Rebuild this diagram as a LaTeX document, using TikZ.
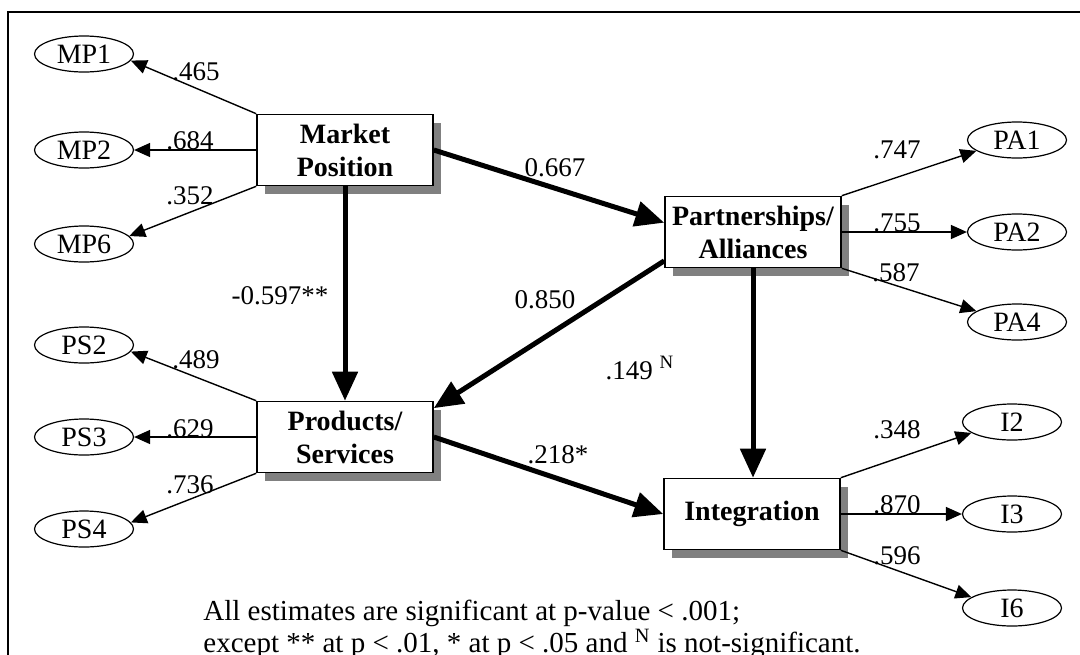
\documentclass[tikz,border=0pt]{standalone}
\usepackage{fontspec}
\setmainfont{Liberation Serif}
\usetikzlibrary{arrows.meta,shapes.geometric,shadows}

\begin{document}
\begin{tikzpicture}[x=0.5pt,y=-0.5pt,
    construct/.style={draw, line width=0.8pt, fill=white, minimum width=88pt, minimum height=35.5pt, inner sep=1pt, align=center, font=\bfseries\fontsize{14}{16.5}\selectfont, drop shadow={shadow xshift=4pt, shadow yshift=-4pt, fill=black!50, opacity=1}},
    item/.style={ellipse, draw, line width=0.6pt, minimum width=49.5pt, minimum height=18pt, inner sep=0pt, font=\fontsize{14}{16}\selectfont},
    loading/.style={-{Triangle[length=8pt,width=7pt]}, line width=0.7pt},
    effect/.style={-{Triangle[length=14.5pt,width=12.5pt]}, line width=2.5pt},
    est/.style={inner sep=0pt, font=\fontsize{13.5}{14.5}\selectfont},
    note/.style={inner sep=0pt, align=left, font=\fontsize{14.5}{14.2}\selectfont}]

            \useasboundingbox (0,0) rectangle (1080,654);
            \draw[line width=1pt] (8,12) rectangle (1100,680);

            % constructs
            \node[construct] (mpbox) at (345,150) {Market\\Position};
            \node[construct] (psbox) at (345,437) {Products/\\Services};
            \node[construct] (pabox) at (753,232) {Partnerships/\\Alliances};
            \node[construct] (intbox) at (752,514) {Integration};

            % indicators
            \node[item, node distance=130.5pt] (mp2) [left of = mpbox]{MP2};
            \node[item, node distance=48pt] (mp1) [above of = mp2]{MP1};
            \node[item, node distance=47pt] (mp6) [below of = mp2]{MP6};
            \node[item, node distance=130.5pt] (ps3) [left of = psbox]{PS3};
            \node[item, node distance=46pt] (ps2) [above of = ps3]{PS2};
            \node[item, node distance=46pt] (ps4) [below of = ps3]{PS4};
            \node[item, node distance=132pt] (pa2) [right of = pabox]{PA2};
            \node[item, node distance=46pt] (pa1) [above of = pa2]{PA1};
            \node[item, node distance=45pt] (pa4) [below of = pa2]{PA4};
            \node[item, node distance=130pt] (i3) [right of = intbox]{I3};
            \node[item, node distance=46pt] (i2) [above of = i3]{I2};
            \node[item, node distance=47pt] (i6) [below of = i3]{I6};

            \draw[loading] (mpbox.north west) to (mp1.-8);
            \draw[loading] (mpbox.west) to (mp2);
            \draw[loading] (mpbox.south west) to (mp6.10);
            \draw[loading] (psbox.north west) to (ps2.-8);
            \draw[loading] (psbox.west) to (ps3);
            \draw[loading] (psbox.south west) to (ps4.8);
            \draw[loading] (pabox.north east) to (pa1.195);
            \draw[loading] (pabox.east) to (pa2);
            \draw[loading] (pabox.south east) to (pa4.165);
            \draw[loading] (intbox.north east) to (i2.195);
            \draw[loading] (intbox.east) to (i3);
            \draw[loading] (intbox.south east) to (i6.165);

            \draw[effect] (mpbox.east) to (pabox.174);
            \draw[effect] (mpbox.south) to (psbox.north);
            \draw[effect] (pabox.198) to (psbox.18);
            \draw[effect] (psbox.east) to (intbox.west);
            \draw[effect] (pabox.south) to (pabox.south |- intbox.north);

            % estimates
            \node[est] (w465) at (196,72) {.465};
            \node[est] (w684) at (190,141) {.684};
            \node[est] (w352) at (190,196) {.352};
            \node[est] (w489) at (196,360) {.489};
            \node[est] (w629) at (190,429) {.629};
            \node[est] (w736) at (190,485) {.736};
            \node[est] (w747) at (897,150) {.747};
            \node[est] (w755) at (897,223) {.755};
            \node[est] (w587) at (896,273) {.587};
            \node[est] (w348) at (897,430) {.348};
            \node[est] (w870) at (897,505) {.870};
            \node[est] (w596) at (897,556) {.596};
            \node[est] (w667) at (555,168) {0.667};
            \node[est] (w597) at (280,296) {-0.597**};
            \node[est] (w850) at (545,300) {0.850};
            \node[est] (w149) at (640,368) {.149 \textsuperscript{N}};
            \node[est] (w218) at (558,455) {.218*};

            \node[note, anchor=north west] (footnote) at (203,600) {All estimates are significant at p-value < .001;\\except ** at p < .01, * at p < .05 and \textsuperscript{N} is not-significant.};

            ;
        \end{tikzpicture}
\end{document}
